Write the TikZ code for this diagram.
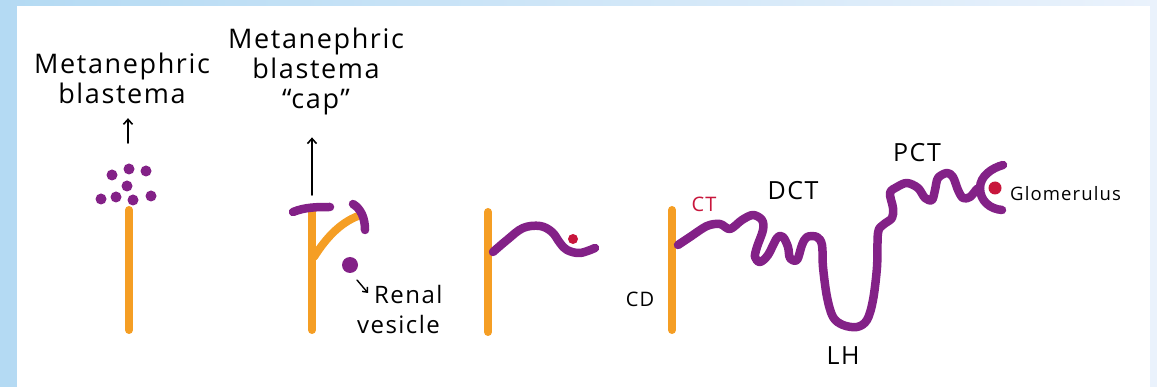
\documentclass[tikz,border=0pt]{standalone}
\usepackage{fontspec}
\newfontfamily\handfont[LetterSpace=6]{Open Sans}
\usetikzlibrary{arrows.meta, positioning, calc}
\definecolor{ductorange}{RGB}{245, 158, 36}
\definecolor{tubpurple}{RGB}{131, 33, 135}
\definecolor{glomred}{RGB}{200, 22, 60}
\definecolor{frameblue}{RGB}{180, 218, 243}
\definecolor{framepale}{RGB}{234, 242, 252}

\begin{document}
\begin{tikzpicture}[x=1pt, y=-1pt,
  duct/.style={draw=ductorange, line width=8pt, line cap=round},
  tubule/.style={draw=tubpurple, line width=8.5pt, line cap=round, line join=round},
  cell/.style={circle, fill=tubpurple, inner sep=0pt, minimum size=11pt},
  glom/.style={circle, fill=glomred, inner sep=0pt, minimum size=10pt},
  pointer/.style={-{Straight Barb[length=5pt, width=9pt]}, line width=1.6pt, line cap=round},
  biglabel/.style={font=\handfont\fontsize{27}{30}\selectfont, align=center, inner sep=0pt},
  partlabel/.style={font=\handfont\fontsize{25}{30}\selectfont, inner sep=0pt}]

  % frame
  \shade[left color=frameblue, right color=framepale] (0,0) rectangle (1157,387);
  \fill[white] (17,6) rectangle (1150,387);

  % stage 1: loose blastema cells above the bud
  \draw[duct] (129,210) -- (129,330);
  \foreach \x/\y in {112/175, 129/169, 146/171, 127/186, 101/199, 116/197, 133/200, 151/196}
    \node[cell] at (\x,\y) {};
  \node[biglabel, anchor=north] (blast1) at (122,53) {Metanephric\\blastema};
  \coordinate (arr1) at (128,143);
  \draw[pointer, shorten >=14pt] (arr1) -- (arr1 |- blast1.south);

  % stage 2: branching bud with caps and a renal vesicle
  \draw[duct] (312,212) -- (312,330);
  \draw[duct] (314,257) .. controls (326,238) and (340,223) .. (358,216);
  \draw[tubule] (293,212) .. controls (305,207) and (318,207) .. (330,207);
  \draw[tubule] (353,204) .. controls (361,209) and (365,218) .. (365,230);
  \node[cell, minimum size=16pt] (vesicle) at (350,265) {};
  \node[biglabel, anchor=north] (blast2) at (316,28) {Metanephric\\blastema\\“cap”};
  \coordinate (arr2) at (312,195);
  \draw[pointer, shorten >=22pt] (arr2) -- (arr2 |- blast2.south);
  \node[partlabel, font=\handfont\fontsize{24}{30}\selectfont, align=left, anchor=north west] (rv) at (357,285) {\hspace*{17pt}Renal\\vesicle};
  \coordinate (rvtail) at (357,280);
  \coordinate (rvhead) at (368,293);
  \draw[pointer, line width=1.4pt, -{Straight Barb[length=4pt, width=7pt]}] (rvtail) -- (rvhead);

  % stage 3: s-shaped body
  \draw[duct] (488,212) -- (488,332);
  \draw[tubule] plot[smooth, tension=0.6] coordinates {(493,252) (507,240) (523,228) (540,226) (552,232) (560,243) (567,250) (580,253) (595,248)};
  \node[glom] (glom3) at (573,239) {};

  % stage 4: mature nephron
  \draw[duct] (672,210) -- (672,330);
  \draw[tubule] plot[smooth, tension=0.55] coordinates {
    (678,245) (690,237) (707,226) (720,224) (730,229) (742,220) (753,215) (762,220)
    (763,230) (757,247) (755,257) (760,262) (768,255) (777,238) (783,237) (788,247)
    (790,258) (797,260) (802,245) (807,237) (817,237) (822,245) (823,267) (827,297)
    (833,317) (843,325) (857,327) (867,320) (873,300) (877,267) (878,233) (883,225)
    (892,218) (893,208) (890,193) (897,187) (907,183) (918,188) (925,198) (932,200)
    (935,190) (938,178) (947,173) (953,177) (958,190) (963,198) (970,197) (977,189) (980,188)};
  \draw[tubule] (1003,165) .. controls (992,168) and (980,176) .. (980,188)
                .. controls (980,201) and (990,209) .. (1002,210);
  \node[glom, minimum size=13pt] (glom4) at (995,188) {};

  \node[partlabel, font=\handfont\fontsize{20}{20}\selectfont, anchor=base] (cd) at (640,307) {CD};
  \node[partlabel, font=\handfont\fontsize{20}{20}\selectfont, text=glomred, anchor=base] (ct) at (704,212) {CT};
  \node[partlabel, anchor=base] (dct) at (793,200) {DCT};
  \node[partlabel, anchor=base] (lh) at (843,365) {LH};
  \node[partlabel, anchor=base] (pct) at (917,162) {PCT};
  \node[partlabel, font=\handfont\fontsize{18.5}{20}\selectfont, anchor=base west] (glomlab) at (1010,201) {Glomerulus};
\end{tikzpicture}
\end{document}
